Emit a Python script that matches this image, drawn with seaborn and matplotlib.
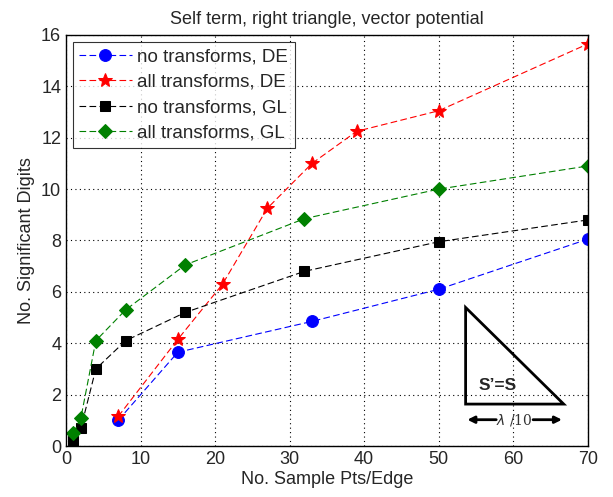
import numpy as np
import pandas as pd
import seaborn as sns
import matplotlib
matplotlib.use('Agg')
import matplotlib.pyplot as plt

# 数据：采样点数 vs 有效位数
x_de = [7, 15, 33, 50, 70]
y_no_de = [1.0, 3.65, 4.85, 6.1, 8.05]
x_all_de = [7, 15, 21, 27, 33, 39, 50, 70]
y_all_de = [1.15, 4.15, 6.3, 9.25, 11.0, 12.25, 13.05, 15.65]
x_gl = [1, 2, 4, 8, 16, 32, 50, 70]
y_no_gl = [0.2, 0.7, 3.0, 4.1, 5.2, 6.8, 7.95, 8.8]
y_all_gl = [0.5, 1.1, 4.1, 5.3, 7.05, 8.85, 10.0, 10.9]

series = [
    ('no transforms, DE', x_de, y_no_de, 'blue', 'o', 8.5),
    ('all transforms, DE', x_all_de, y_all_de, 'red', '*', 10),
    ('no transforms, GL', x_gl, y_no_gl, 'black', 's', 7),
    ('all transforms, GL', x_gl, y_all_gl, 'green', 'D', 7),
]
green = (0, 0.5, 0)

sns.set_style('white')
plt.rcParams['font.family'] = ['Liberation Sans', 'DejaVu Sans']

fig = plt.figure(figsize=(6.13, 4.97), dpi=100)
ax = fig.add_axes([0.1077, 0.1026, 0.851, 0.827])

for name, xs, ys, c, m, ms in series:
    col = green if c == 'green' else c
    df = pd.DataFrame({'x': xs, 'y': ys})
    sns.lineplot(data=df, x='x', y='y', ax=ax, color=col, lw=0.8, ls=(0, (6, 3)),
                 marker=m, markersize=ms, markeredgecolor=col, markerfacecolor=col,
                 label=name, alpha=1)

ax.set_xlim(0, 70)
ax.set_ylim(0, 16)
ax.set_xticks(range(0, 71, 10))
ax.set_yticks(range(0, 17, 2))
ax.grid(True, color='black', ls=(0, (1, 3)), lw=0.8)
for s in ax.spines.values():
    s.set_color('black')
    s.set_linewidth(1)
ax.tick_params(axis='both', direction='in', length=4, labelsize=13, color='black')
ax.set_xlabel('No. Sample Pts/Edge', fontsize=13, labelpad=2)
ax.set_ylabel('No. Significant Digits', fontsize=13)
ax.set_title('Self term, right triangle, vector potential', fontsize=13, pad=8)

leg = ax.legend(loc='upper left', fontsize=13.5, frameon=True, fancybox=False,
                edgecolor='black', borderaxespad=0.35, handlelength=2.8,
                labelspacing=0.45, borderpad=0.35, handletextpad=0.3)
leg.get_frame().set_linewidth(0.8)

# 右下角三角形示意图
tri = plt.Polygon([(0.766, 0.337), (0.766, 0.102), (0.954, 0.102)], closed=True,
                  fill=False, edgecolor='black', lw=2, transform=ax.transAxes)
ax.add_patch(tri)
ax.text(0.79, 0.128, 'S\u2019=S', transform=ax.transAxes, fontsize=12.5,
        fontweight='bold', ha='left', va='bottom')
ax.annotate('', xy=(0.764, 0.064), xytext=(0.83, 0.064), xycoords='axes fraction',
            arrowprops=dict(arrowstyle='-|>', color='black', lw=2, mutation_scale=10))
ax.annotate('', xy=(0.956, 0.064), xytext=(0.89, 0.064), xycoords='axes fraction',
            arrowprops=dict(arrowstyle='-|>', color='black', lw=2, mutation_scale=10))
ax.text(0.86, 0.064, r'$\lambda$ /10', transform=ax.transAxes, fontsize=10,
        ha='center', va='center', color='#333333', family='DejaVu Serif')

fig.savefig('out.png', dpi=100)
